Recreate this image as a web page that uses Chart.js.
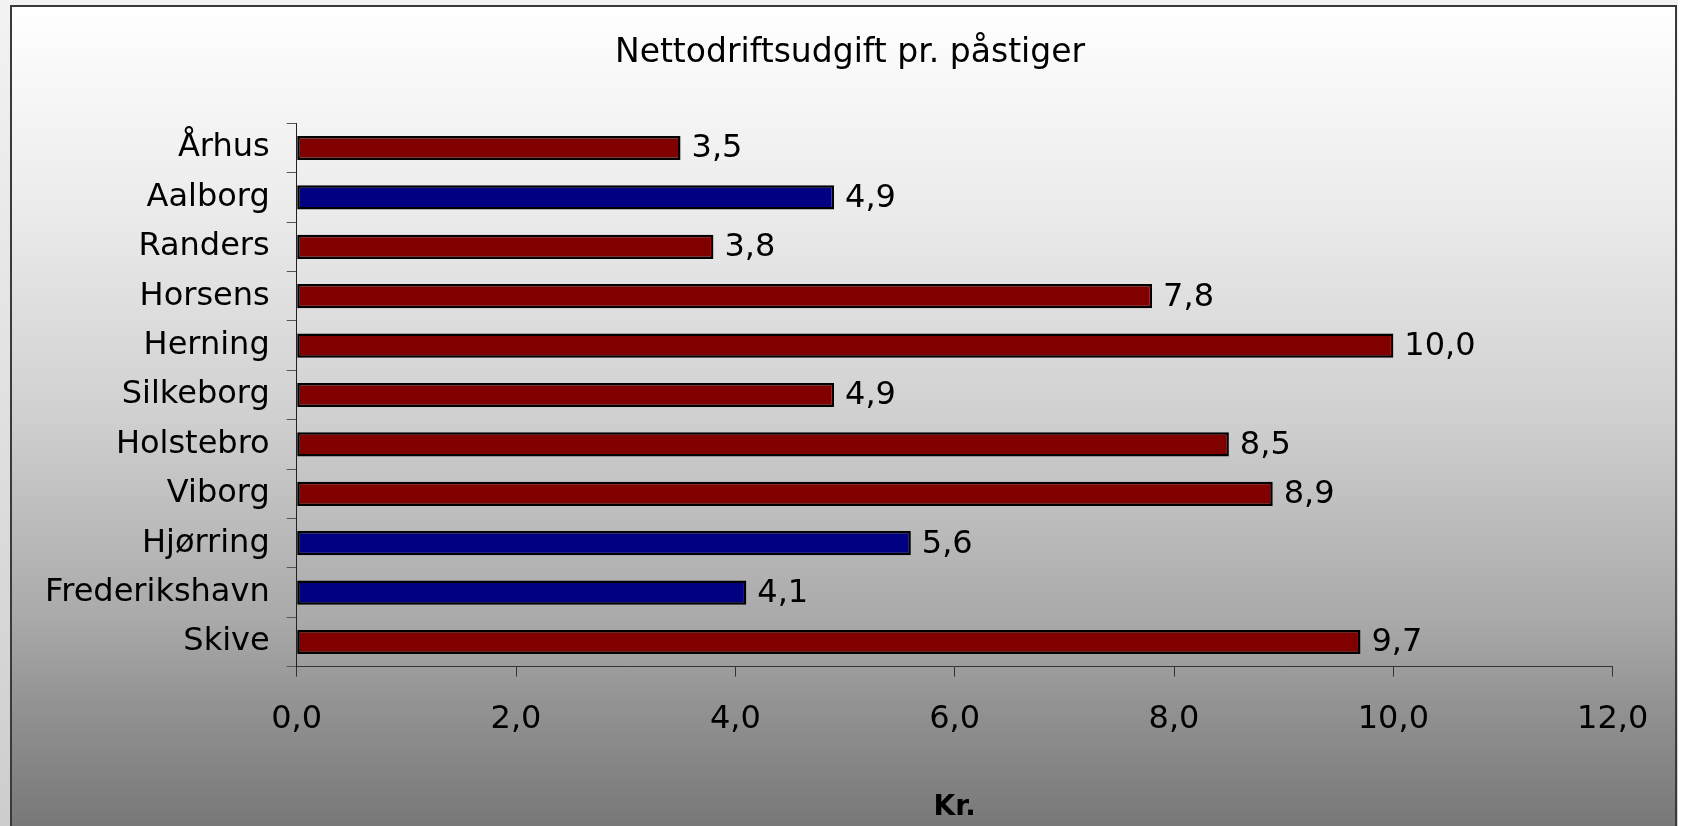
<!DOCTYPE html>
<html>
<head>
<meta charset="utf-8">
<title>Nettodriftsudgift pr. påstiger</title>
<script src="https://cdn.jsdelivr.net/npm/chart.js@4/dist/chart.umd.min.js"></script>
<style>
  html, body { margin: 0; padding: 0; background: #ffffff; }
  canvas { display: block; }
</style>
</head>
<body>
<canvas id="udgiftChart" width="1682" height="826"></canvas>
<script>
// Nettodriftsudgift pr. påstiger, kr.
const cities = ['Århus', 'Aalborg', 'Randers', 'Horsens', 'Herning', 'Silkeborg',
                'Holstebro', 'Viborg', 'Hjørring', 'Frederikshavn', 'Skive'];
const expense = [3.5, 4.9, 3.8, 7.8, 10.0, 4.9, 8.5, 8.9, 5.6, 4.1, 9.7];
// Nordjyske byer vises med blå søjle
const northCities = ['Aalborg', 'Hjørring', 'Frederikshavn'];
const xTicks = [0, 2, 4, 6, 8, 10, 12];

const FONT = "'DejaVu Sans', Verdana, sans-serif";

function kr(v) {
    return v.toFixed(1).replace('.', ',');
}

// Frame and grey gradient behind the chart
const backgroundPlugin = {
    id: 'frameBackground',
    beforeDraw(chart) {
        const ctx = chart.ctx;
        const w = chart.width, h = chart.height;
        ctx.save();
        const outer = ctx.createLinearGradient(0, 0, 0, h);
        outer.addColorStop(0, '#f3f3f3');
        outer.addColorStop(1, '#cdcdcd');
        ctx.fillStyle = outer;
        ctx.fillRect(0, 0, w, h);
        ctx.fillStyle = '#ffffff';
        ctx.fillRect(1678, 0, w - 1678, h);

        const inner = ctx.createLinearGradient(0, 5, 0, h);
        inner.addColorStop(0, '#ffffff');
        inner.addColorStop(0.25, '#ebebeb');
        inner.addColorStop(0.5, '#d0d0d0');
        inner.addColorStop(0.75, '#a9a9a9');
        inner.addColorStop(0.85, '#939393');
        inner.addColorStop(1, '#787878');
        ctx.fillStyle = inner;
        ctx.fillRect(10, 5, 1667, h);

        ctx.strokeStyle = '#3a3a3a';
        ctx.lineWidth = 2;
        ctx.strokeRect(11, 6, 1665, h + 10);
        ctx.restore();
    }
};

// Long city names run past the left padding; widen the label clip box
const labelRoomPlugin = {
    id: 'labelRoom',
    afterLayout(chart) {
        chart.scales.y.left = 12;
    }
};

// Value printed to the right of each bar
const valueLabelPlugin = {
    id: 'valueLabels',
    afterDatasetsDraw(chart) {
        const ctx = chart.ctx;
        const meta = chart.getDatasetMeta(0);
        ctx.save();
        ctx.font = '32px ' + FONT;
        ctx.fillStyle = '#000000';
        ctx.textAlign = 'left';
        ctx.textBaseline = 'middle';
        meta.data.forEach((bar, i) => {
            ctx.fillText(kr(expense[i]), bar.x + 11, bar.y + 1);
        });
        ctx.restore();
    }
};

document.addEventListener('DOMContentLoaded', function() {
    const ctx = document.getElementById('udgiftChart').getContext('2d');
    const barColors = cities.map(c => northCities.includes(c) ? '#000080' : '#800000');

    new Chart(ctx, {
        type: 'bar',
        data: {
            labels: cities,
            datasets: [{
                label: 'Kr.',
                data: expense,
                backgroundColor: barColors,
                borderColor: '#000000',
                borderWidth: 2.5,
                borderSkipped: false,
                barPercentage: 0.49,
                categoryPercentage: 1
            }]
        },
        options: {
            indexAxis: 'y',
            responsive: false,
            animation: false,
            layout: {
                padding: { left: 87.3, right: 69.3, top: 0, bottom: 0 }
            },
            scales: {
                x: {
                    min: 0,
                    max: 12,
                    afterBuildTicks: (scale) => {
                        scale.ticks = xTicks.map(v => ({ value: v }));
                    },
                    afterFit: (scale) => { scale.height = 159.3; },
                    grid: {
                        drawOnChartArea: false,
                        drawTicks: true,
                        tickLength: 10,
                        color: '#333333'
                    },
                    border: { display: true, color: '#333333', width: 1 },
                    ticks: {
                        padding: 24,
                        maxRotation: 0,
                        color: '#000000',
                        font: { family: FONT, size: 32 },
                        callback: (v) => kr(v)
                    },
                    title: {
                        display: true,
                        text: 'Kr.',
                        color: '#000000',
                        font: { family: FONT, size: 28, weight: 'bold' },
                        padding: { top: 0, bottom: 1 }
                    }
                },
                y: {
                    afterFit: (scale) => { scale.width = 209.4; },
                    grid: {
                        drawOnChartArea: false,
                        drawTicks: true,
                        tickLength: 10,
                        offset: true,
                        color: '#555555'
                    },
                    border: { display: true, color: '#222222', width: 1 },
                    ticks: {
                        padding: 17,
                        autoSkip: false,
                        color: '#000000',
                        font: { family: FONT, size: 32 }
                    }
                }
            },
            plugins: {
                legend: { display: false },
                tooltip: { enabled: false },
                title: {
                    display: true,
                    text: 'Nettodriftsudgift pr. påstiger',
                    color: '#000000',
                    font: { family: FONT, size: 33, weight: 'normal' },
                    padding: { top: 34, bottom: 49.7 }
                }
            }
        },
        plugins: [backgroundPlugin, labelRoomPlugin, valueLabelPlugin]
    });
});
</script>
</body>
</html>
